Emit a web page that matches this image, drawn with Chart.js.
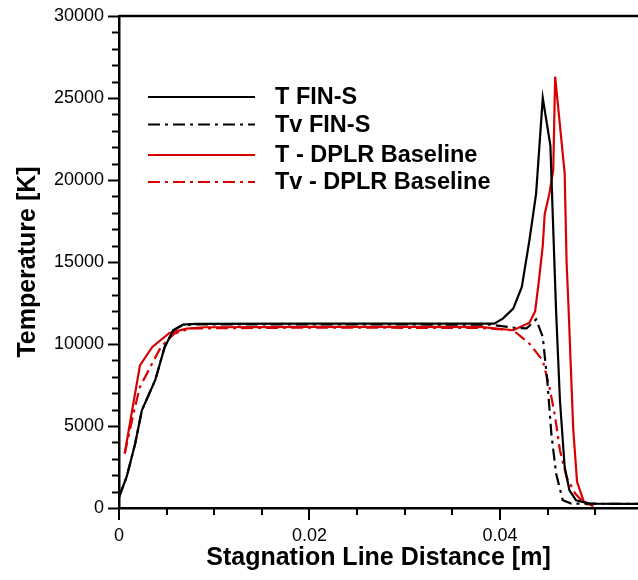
<!DOCTYPE html>
<html>
<head>
<meta charset="utf-8">
<script src="https://cdn.jsdelivr.net/npm/chart.js@4/dist/chart.umd.min.js"></script>
<style>
  html, body { margin: 0; padding: 0; background: #fff; }
  #grafico { display: block; }
</style>
</head>
<body>
<canvas id="grafico" width="638" height="580"></canvas>
<script>
// Dados (distância em m, temperatura em K)
const tFinsX = [0, 0.0008, 0.0017, 0.0024, 0.0038, 0.0048, 0.0057, 0.0067, 0.008, 0.02, 0.0394, 0.0403, 0.0414, 0.0423, 0.0431, 0.0438, 0.0445, 0.0453, 0.0456, 0.0459, 0.0463, 0.0468, 0.0473, 0.048, 0.0494, 0.06];
const tFinsY = [670, 1890, 3930, 5960, 7790, 9820, 10840, 11180, 11230, 11240, 11240, 11550, 12160, 13480, 16330, 19170, 25000, 22100, 17000, 12000, 6600, 2500, 1080, 470, 270, 230];

const tvFinsX = [0, 0.0008, 0.0017, 0.0024, 0.0038, 0.0048, 0.0057, 0.0067, 0.008, 0.02, 0.039, 0.0414, 0.0428, 0.0438, 0.0445, 0.045, 0.0454, 0.0459, 0.0466, 0.0475, 0.06];
const tvFinsY = [670, 1890, 3930, 5960, 7790, 9820, 10840, 11150, 11200, 11200, 11180, 11000, 10950, 11500, 10430, 7590, 4540, 2100, 470, 270, 230];

const tDplrX = [0.0006, 0.0022, 0.0035, 0.0053, 0.0071, 0.009, 0.02, 0.0379, 0.0414, 0.0431, 0.0437, 0.0441, 0.0445, 0.0447, 0.0452, 0.0456, 0.0458, 0.0468, 0.047, 0.0472, 0.0477, 0.0481, 0.0488, 0.0498];
const tDplrY = [3320, 8700, 9820, 10670, 10940, 11020, 11040, 11040, 10840, 11300, 12000, 13900, 16000, 17900, 19200, 20600, 26300, 20400, 15000, 12300, 4800, 1600, 400, 100];

const tvDplrX = [0.0006, 0.0016, 0.0022, 0.0032, 0.0044, 0.0058, 0.0075, 0.02, 0.038, 0.0414, 0.0431, 0.0445, 0.0452, 0.0458, 0.0463, 0.047, 0.0479, 0.0489, 0.0498];
const tvDplrY = [3320, 5960, 7380, 8500, 9820, 10630, 10950, 11000, 10980, 10840, 10020, 9000, 7380, 5550, 3520, 1890, 880, 270, 100];

const legendas = ["T FIN-S", "Tv FIN-S", "T - DPLR Baseline", "Tv - DPLR Baseline"];

const VERMELHO = "#d80000";
const TRACO_PONTO = [12, 5, 3, 5];

function pares(xs, ys) {
    return xs.map((x, i) => ({ x: x, y: ys[i] }));
}

function ehMultiplo(v, passo) {
    const r = v / passo;
    return Math.abs(r - Math.round(r)) < 1e-6;
}

// Marcas dos eixos (maiores e menores) e borda superior
const pluginMarcas = {
    id: "marcas",
    afterDraw(chart) {
        const ctx = chart.ctx;
        const area = chart.chartArea;
        const sx = chart.scales.x;
        const sy = chart.scales.y;
        ctx.save();
        ctx.strokeStyle = "#000";
        ctx.lineWidth = 2;
        sy.ticks.forEach(t => {
            if (!ehMultiplo(t.value, 1000)) return;
            const py = Math.round(sy.getPixelForValue(t.value)) + 0.5;
            const len = ehMultiplo(t.value, 5000) ? 11 : 7;
            ctx.beginPath();
            ctx.moveTo(area.left - len, py);
            ctx.lineTo(area.left, py);
            ctx.stroke();
        });
        sx.ticks.forEach(t => {
            if (!ehMultiplo(t.value, 0.005)) return;
            const px = Math.round(sx.getPixelForValue(t.value));
            const len = ehMultiplo(t.value, 0.02) ? 12 : 7;
            ctx.beginPath();
            ctx.moveTo(px, area.bottom);
            ctx.lineTo(px, area.bottom + len);
            ctx.stroke();
        });
        ctx.lineWidth = 2.5;
        ctx.beginPath();
        ctx.moveTo(area.left, area.top);
        ctx.lineTo(area.right, area.top);
        ctx.stroke();
        ctx.restore();
    }
};

// Legenda desenhada dentro da área do gráfico
const pluginLegenda = {
    id: "legendaInterna",
    afterDatasetsDraw(chart) {
        const ctx = chart.ctx;
        const linhasY = [97, 124.5, 155, 182];
        ctx.save();
        ctx.font = "bold 23.5px 'Liberation Sans', Arial, sans-serif";
        ctx.textBaseline = "middle";
        ctx.fillStyle = "#000";
        chart.data.datasets.forEach((ds, i) => {
            const y = linhasY[i];
            ctx.strokeStyle = ds.borderColor;
            ctx.lineWidth = ds.borderWidth;
            ctx.setLineDash(ds.borderDash || []);
            ctx.beginPath();
            ctx.moveTo(148, y);
            ctx.lineTo(255, y);
            ctx.stroke();
            ctx.setLineDash([]);
            ctx.fillText(ds.label, 275, y + 1);
        });
        ctx.restore();
    }
};

Chart.defaults.font.family = "'Liberation Sans', Arial, sans-serif";
Chart.defaults.color = "#000";

new Chart(document.getElementById("grafico").getContext("2d"), {
    type: "line",
    data: {
        datasets: [
            { label: legendas[0], data: pares(tFinsX, tFinsY), borderColor: "#000", borderWidth: 2.2 },
            { label: legendas[1], data: pares(tvFinsX, tvFinsY), borderColor: "#000", borderWidth: 2.2, borderDash: TRACO_PONTO },
            { label: legendas[2], data: pares(tDplrX, tDplrY), borderColor: VERMELHO, borderWidth: 2.2 },
            { label: legendas[3], data: pares(tvDplrX, tvDplrY), borderColor: VERMELHO, borderWidth: 2.2, borderDash: TRACO_PONTO }
        ]
    },
    options: {
        responsive: false,
        animation: false,
        layout: { padding: { top: 16, right: 0, left: 0, bottom: 0 } },
        elements: { point: { radius: 0 }, line: { tension: 0, fill: false } },
        plugins: { legend: { display: false }, tooltip: { enabled: false } },
        scales: {
            x: {
                type: "linear",
                min: 0,
                max: 0.0545,
                grid: { display: false, drawTicks: false },
                border: { display: true, color: "#000", width: 2.5 },
                ticks: {
                    stepSize: 0.005,
                    includeBounds: false,
                    padding: 17,
                    maxRotation: 0,
                    autoSkip: false,
                    font: { size: 18 },
                    callback: v => ehMultiplo(v, 0.02) ? (v === 0 ? "0" : v.toFixed(2)) : ""
                },
                title: {
                    display: true,
                    text: "Stagnation Line Distance [m]",
                    font: { size: 25, weight: "bold" },
                    padding: { top: 0, bottom: 7 }
                },
                afterFit: s => { s.height = 72; s.paddingLeft = 0; s.paddingRight = 0; }
            },
            y: {
                min: 0,
                max: 30000,
                grid: { display: false, drawTicks: false },
                border: { display: true, color: "#000", width: 2.5 },
                ticks: {
                    stepSize: 1000,
                    padding: 15,
                    autoSkip: false,
                    font: { size: 18 },
                    callback: v => ehMultiplo(v, 5000) ? String(v) : ""
                },
                title: {
                    display: true,
                    text: "Temperature [K]",
                    font: { size: 25, weight: "bold" },
                    padding: { top: 13, bottom: 0 }
                },
                afterFit: s => { s.width = 119; s.paddingTop = 0; s.paddingBottom = 0; }
            }
        }
    },
    plugins: [pluginMarcas, pluginLegenda]
});
</script>
</body>
</html>
